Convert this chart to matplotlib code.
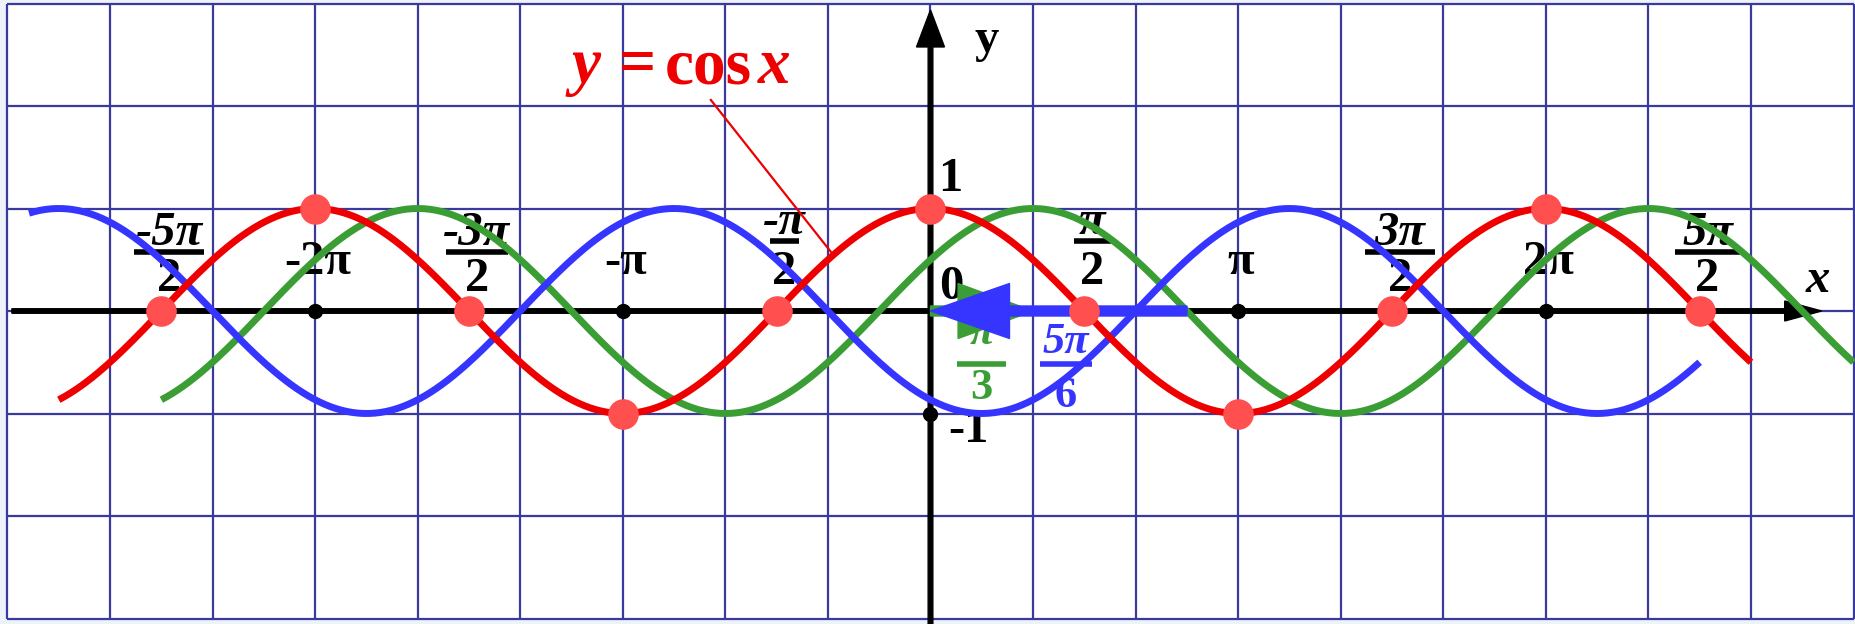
import matplotlib
matplotlib.use("Agg")
import matplotlib.pyplot as plt
from matplotlib.patches import FancyArrow, Rectangle
import numpy as np

PI = np.pi

# curves y = cos(x + shift), drawn over [start, end]
curve_colors = ["#ee0000", "#3a9e35", "#3535ff"]
curve_shift = [0.0, -PI / 3, 5 * PI / 6]
curve_start = [-17 * PI / 6, -5 * PI / 2, -2.93 * PI]
curve_end = [8 * PI / 3, 3 * PI, 5 * PI / 2]
curve_zorder = [4.2, 4.0, 4.1]

# red points on y = cos x
key_x = [k * PI / 2 for k in range(-5, 6)]

# black dots on the axes
axis_dot_x = [-2 * PI, -PI, PI, 2 * PI, 0.0]
axis_dot_y = [0.0, 0.0, 0.0, 0.0, -1.0]

# x-axis labels
int_label_x = [-2 * PI, -PI, PI, 2 * PI]
int_label_text = ["-2π", "-π", "π", "2π"]
frac_label_x = [-5 * PI / 2, -3 * PI / 2, -PI / 2, PI / 2, 3 * PI / 2, 5 * PI / 2]
frac_label_num = ["-5π", "-3π", "-π", "π", "3π", "5π"]
frac_label_den = ["2", "2", "2", "2", "2", "2"]
frac_bar_px = [70, 62, 30, 37, 70, 65]

# shift arrows
green_shift = PI / 3
blue_shift = 5 * PI / 6

# grid
grid_x = [k * PI / 3 for k in range(-9, 10)]
grid_y = [-3, -2, -1, 0, 1, 2, 3]

PX_X = 97.96   # pixels per radian
PX_Y = 102.5   # pixels per unit

FONT = ["Liberation Serif", "DejaVu Serif"]
GRID = "#3a3a9e"
TICK_SIZE = 35


def frac(ax, x, num, den, color, y_num, y_bar, y_den, bar_w, size, num_style="italic"):
    ax.text(x, y_num, num, ha="center", va="center", fontsize=size, fontweight="bold",
            style=num_style, color=color, family=FONT, zorder=3)
    ax.plot([x - bar_w / 2, x + bar_w / 2], [y_bar, y_bar], color=color, lw=4,
            solid_capstyle="butt", zorder=3)
    ax.text(x, y_den, den, ha="center", va="center", fontsize=size, fontweight="bold",
            color=color, family=FONT, zorder=3)


fig = plt.figure(figsize=(18.55, 6.24), dpi=100)
fig.patch.set_facecolor("#eef2f9")
ax = fig.add_axes([0, 0, 1, 1])
ax.set_xlim(-3 * PI - 7.5 / PX_X, 3 * PI + 1.5 / PX_X)
ax.set_ylim(-313 / PX_Y, 311 / PX_Y)
ax.axis("off")

ax.add_patch(Rectangle((-3 * PI, -3), 6 * PI, 6, facecolor="white", edgecolor="none", zorder=0))
ax.vlines(grid_x, -3, 3, color=GRID, lw=1.6, zorder=1)
ax.hlines(grid_y, -3 * PI, 3 * PI, color=GRID, lw=1.6, zorder=1)

# axes with arrow heads
ax.add_patch(FancyArrow(-9.38, 0, 9.10 + 9.38, 0, width=4.5 / PX_Y, head_width=20 / PX_Y,
                        head_length=37 / PX_X, length_includes_head=True, color="black", zorder=2))
ax.add_patch(FancyArrow(0, -3.1, 0, 2.937 + 3.1, width=4.7 / PX_X, head_width=28 / PX_X,
                        head_length=37 / PX_Y, length_includes_head=True, color="black", zorder=2))
ax.plot(axis_dot_x, axis_dot_y, "o", color="black", ms=10, zorder=2.5)

# x tick labels
for x, t in zip(int_label_x, int_label_text):
    ax.text(x + 0.03, 0.478, t, ha="center", va="center", fontsize=TICK_SIZE, fontweight="bold",
            family=FONT, color="black", zorder=3)
for x, n, d, w in zip(frac_label_x, frac_label_num, frac_label_den, frac_bar_px):
    if abs(x) < PI:
        frac(ax, x + 0.08, n, d, "black", 0.87, 0.683, 0.385, w / PX_X, TICK_SIZE)
    else:
        frac(ax, x + 0.08, n, d, "black", 0.76, 0.576, 0.31, w / PX_X, TICK_SIZE)

ax.text(0.217, 0.234, "0", ha="center", va="center", fontsize=TICK_SIZE, fontweight="bold",
        family=FONT, zorder=3)
ax.text(0.197, 1.288, "1", ha="center", va="center", fontsize=TICK_SIZE, fontweight="bold",
        family=FONT, zorder=3)
ax.text(0.39, -1.161, "-1", ha="center", va="center", fontsize=TICK_SIZE, fontweight="bold",
        family=FONT, zorder=3)
ax.text(0.575, 2.644, "y", ha="center", va="center", fontsize=TICK_SIZE, fontweight="bold",
        family=FONT, zorder=3)
ax.text(9.057, 0.302, "x", ha="center", va="center", fontsize=TICK_SIZE, fontweight="bold",
        style="italic", family=FONT, zorder=3)

# shift labels
frac(ax, 0.52, "π", "3", curve_colors[1], -0.215, -0.517, -0.75, 49 / PX_X, 32)
frac(ax, 1.38, "5π", "6", curve_colors[2], -0.30, -0.517, -0.83, 52 / PX_X, 32)

# curves
for c, s, a, b, z in zip(curve_colors, curve_shift, curve_start, curve_end, curve_zorder):
    xs = np.linspace(a, b, 600)
    ax.plot(xs, np.cos(xs + s), color=c, lw=5, solid_capstyle="butt", zorder=z)

# shift arrows
ax.add_patch(FancyArrow(0, 0, green_shift, 0, width=10 / PX_Y, head_width=55 / PX_Y,
                        head_length=75 / PX_X, length_includes_head=True,
                        color=curve_colors[1], zorder=5))
ax.add_patch(FancyArrow(blue_shift, 0, -blue_shift, 0, width=10 / PX_Y, head_width=55 / PX_Y,
                        head_length=79 / PX_X, length_includes_head=True,
                        color=curve_colors[2], zorder=5.1))

# key points
ax.plot(key_x, np.cos(key_x), "o", color="#ff4f4f", ms=21, zorder=6)

# title with leader line
title_y = 2.224
title_size = 47
ax.text(-3.519, title_y, "y", ha="center", va="baseline", fontsize=title_size, fontweight="bold",
        style="italic", color="#ee0000", family=FONT, zorder=3)
ax.text(-2.988, title_y, "=", ha="center", va="baseline", fontsize=title_size, fontweight="bold",
        color="#ee0000", family=FONT, zorder=3)
ax.text(-2.273, title_y, "cos", ha="center", va="baseline", fontsize=title_size, fontweight="bold",
        color="#ee0000", family=FONT, zorder=3)
ax.text(-1.600, title_y, "x", ha="center", va="baseline", fontsize=title_size, fontweight="bold",
        style="italic", color="#ee0000", family=FONT, zorder=3)
ax.plot([-2.243, -1.02], [2.059, 0.580], color="#ee0000", lw=1.6, zorder=3)

fig.savefig("out.png", dpi=100, facecolor=fig.get_facecolor())
